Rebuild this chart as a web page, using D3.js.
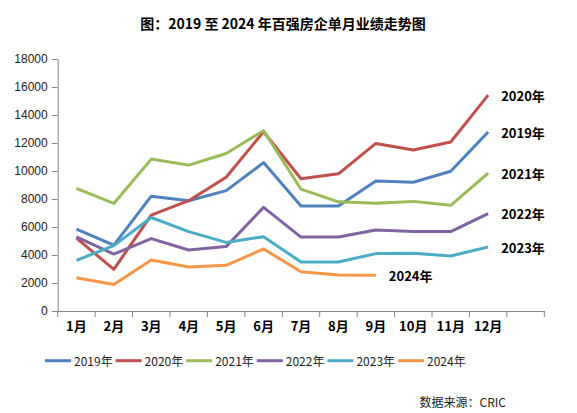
<!DOCTYPE html>
<html>
<head>
<meta charset="utf-8">
<script src="https://d3js.org/d3.v7.min.js"></script>
<style>
  body { margin: 0; background: #fff; }
  svg { display: block; }
</style>
</head>
<body>
<svg id="drawing_region"></svg>
<script>
// months on the x axis (13th slot is left empty, like the original)
const months = ['1月','2月','3月','4月','5月','6月','7月','8月','9月','10月','11月','12月',''];
const seriesNames = ['2019年','2020年','2021年','2022年','2023年','2024年'];
const yTicks = [0,2000,4000,6000,8000,10000,12000,14000,16000,18000];

const v2019 = [5850,4700,8200,7880,8600,10600,7500,7500,9280,9200,9980,12780];
const v2020 = [5200,2980,6850,7880,9550,12800,9450,9800,11970,11500,12070,15420];
const v2021 = [8760,7680,10850,10420,11250,12880,8700,7800,7700,7830,7550,9850];
const v2022 = [5300,4070,5170,4360,4600,7400,5280,5280,5780,5670,5670,6950];
const v2023 = [3620,4670,6680,5670,4900,5310,3500,3500,4100,4120,3930,4570];
const v2024 = [2380,1900,3640,3150,3260,4430,2810,2570,2550];

const colors = ['#4F81BD','#C0504D','#9BBB59','#8064A2','#4BACC6','#F79646'];

const series = seriesNames.map((name, i) => ({
    name: name,
    values: [v2019, v2020, v2021, v2022, v2023, v2024][i],
    color: colors[i]
}));

const config = {
    width: 577,
    height: 413,
    left: 57.7,
    right: 544.3,
    top: 59,
    bottom: 311
};

const svg = d3.select('#drawing_region')
    .attr('width', config.width)
    .attr('height', config.height);

const xscale = d3.scaleBand()
    .domain(months)
    .range([config.left, config.right])
    .padding(0);

const yscale = d3.scaleLinear()
    .domain([0, 18000])
    .range([config.bottom, config.top]);

const cx = m => xscale(m) + xscale.bandwidth() / 2;

// title
svg.append('text')
    .attr('x', 283)
    .attr('y', 23)
    .attr('text-anchor', 'middle')
    .attr('dominant-baseline', 'central')
    .attr('font-family', '"Noto Sans CJK SC", sans-serif')
    .attr('font-weight', 'bold')
    .attr('font-size', 14)
    .attr('fill', '#000')
    .text('图：2019 至 2024 年百强房企单月业绩走势图');

// y axis
const yaxis = d3.axisLeft(yscale)
    .tickValues(yTicks)
    .tickSize(6)
    .tickSizeOuter(0)
    .tickPadding(4)
    .tickFormat(d3.format('d'));

const yg = svg.append('g')
    .attr('transform', `translate(${config.left},0)`)
    .call(yaxis);
yg.select('.domain').attr('stroke', '#868686');
yg.selectAll('.tick line').attr('stroke', '#868686');
yg.selectAll('.tick text')
    .attr('font-family', '"Liberation Sans", Arial, sans-serif')
    .attr('font-size', 12)
    .attr('fill', '#222');

// x axis: labels at band centres, ticks at band edges
const xaxis = d3.axisBottom(xscale)
    .tickSize(0)
    .tickPadding(11)
    .tickSizeOuter(0);

const xg = svg.append('g')
    .attr('transform', `translate(0,${config.bottom})`)
    .call(xaxis);
xg.select('.domain').attr('stroke', '#868686');
xg.selectAll('.tick text')
    .attr('font-family', '"Noto Sans CJK SC", sans-serif')
    .attr('font-weight', 'bold')
    .attr('font-size', 13)
    .attr('fill', '#000');

const edges = months.map(m => xscale(m)).concat([config.right]);
xg.selectAll('.edge')
    .data(edges)
    .enter()
    .append('line')
    .attr('class', 'edge')
    .attr('x1', d => d)
    .attr('x2', d => d)
    .attr('y1', 0)
    .attr('y2', 6)
    .attr('stroke', '#868686');

// lines
const line = d3.line()
    .x((d, i) => cx(months[i]))
    .y(d => yscale(d));

svg.selectAll('.series')
    .data(series)
    .enter()
    .append('path')
    .attr('class', 'series')
    .attr('d', d => line(d.values))
    .attr('fill', 'none')
    .attr('stroke', d => d.color)
    .attr('stroke-width', 3)
    .attr('stroke-linejoin', 'round');

// end labels
svg.selectAll('.endlabel')
    .data(series)
    .enter()
    .append('text')
    .attr('class', 'endlabel')
    .attr('x', d => cx(months[d.values.length - 1]) + 13)
    .attr('y', d => yscale(d.values[d.values.length - 1]))
    .attr('dominant-baseline', 'central')
    .attr('font-family', '"Noto Sans CJK SC", sans-serif')
    .attr('font-weight', 'bold')
    .attr('font-size', 13)
    .attr('fill', '#000')
    .text(d => d.name);

// legend
const legend = svg.selectAll('.legend')
    .data(series)
    .enter()
    .append('g')
    .attr('class', 'legend')
    .attr('transform', (d, i) => `translate(${45 + i * 70.6}, 360.7)`);

legend.append('line')
    .attr('x1', 0)
    .attr('x2', 26)
    .attr('y1', 0)
    .attr('y2', 0)
    .attr('stroke', d => d.color)
    .attr('stroke-width', 3);

legend.append('text')
    .attr('x', 29)
    .attr('y', 0)
    .attr('dominant-baseline', 'central')
    .attr('font-family', '"Noto Sans CJK SC", sans-serif')
    .attr('font-size', 12)
    .attr('fill', '#222')
    .text(d => d.name);

// source note
svg.append('text')
    .attr('x', 506)
    .attr('y', 401)
    .attr('text-anchor', 'end')
    .attr('dominant-baseline', 'central')
    .attr('font-family', '"Noto Sans CJK SC", sans-serif')
    .attr('font-size', 12)
    .attr('fill', '#222')
    .text('数据来源：CRIC');
</script>
</body>
</html>
